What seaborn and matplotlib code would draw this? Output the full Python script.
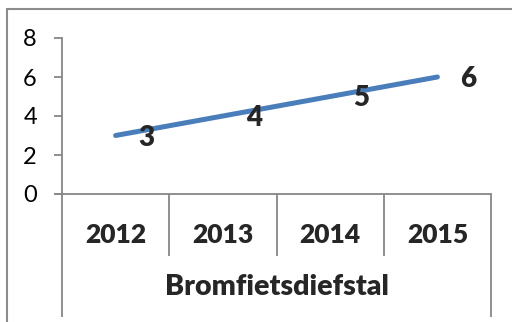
import matplotlib
matplotlib.use("Agg")
import matplotlib.pyplot as plt
import matplotlib.transforms as mtransforms
from matplotlib.patches import Rectangle
import seaborn as sns
import pandas as pd

years = ["2012", "2013", "2014", "2015"]
values = [3, 4, 5, 6]
group_label = "Bromfietsdiefstal"
y_ticks = [0, 2, 4, 6, 8]

sns.set_style("white")
plt.rcParams["font.family"] = ["Lato", "DejaVu Sans"]

df = pd.DataFrame({"x": range(len(years)), "value": values})

W, H = 512, 322
fig = plt.figure(figsize=(W / 100, H / 100), dpi=100)
ax_l, ax_r, ax_t, ax_b = 62, 491, 38, 194
ax = fig.add_axes([ax_l / W, 1 - ax_b / H, (ax_r - ax_l) / W, (ax_b - ax_t) / H])

line_color = "#4A7EBB"
axis_color = "#868686"

sns.lineplot(data=df, x="x", y="value", ax=ax, color=line_color,
             linewidth=3.6, solid_capstyle="round", legend=False)

ax.set_xlim(-0.5, len(years) - 0.5)
ax.set_ylim(0, 8)
ax.set_yticks(y_ticks)
ax.set_yticklabels([str(t) for t in y_ticks], fontsize=17)
ax.set_xticks([])
ax.set_xlabel("")
ax.set_ylabel("")

for side in ["top", "right"]:
    ax.spines[side].set_visible(False)
for side in ["left", "bottom"]:
    ax.spines[side].set_color(axis_color)
    ax.spines[side].set_linewidth(1.3)
ax.tick_params(axis="y", length=6, width=1.3, color=axis_color, pad=12,
               left=True, labelcolor="black")

# Extend the x-axis a bit to the left, like the tick marks
ax.plot([-0.5 - 7 / 107.25, -0.5], [0, 0], color=axis_color, lw=1.3,
        clip_on=False, solid_capstyle="butt")

# Category dividers and labels below the axis
trans = mtransforms.blended_transform_factory(ax.transData, ax.transAxes)
h_px = ax_b - ax_t
inner_bottom = -(256 - ax_b) / h_px
outer_bottom = -(317 - ax_b) / h_px
edges = [i - 0.5 for i in range(len(years) + 1)]
for i, e in enumerate(edges):
    bottom = outer_bottom if i in (0, len(edges) - 1) else inner_bottom
    ax.plot([e, e], [0, bottom], color=axis_color, lw=1.3, transform=trans,
            clip_on=False, solid_capstyle="butt")

for i, yr in enumerate(years):
    ax.text(i, -(235 - ax_b) / h_px, yr, transform=trans, ha="center",
            va="center", fontsize=19, fontweight="heavy")

ax.text(0.5, -(287 - ax_b) / h_px, group_label, transform=ax.transAxes,
        ha="center", va="center", fontsize=20.5, fontweight="heavy")

# Value labels to the right of each point
for i, v in enumerate(values):
    ax.annotate(str(v), (i, v), xytext=(31, -2), textcoords="offset pixels",
                ha="center", va="center", fontsize=20, fontweight="heavy")

# Chart frame
fig.patches.append(Rectangle((6.5 / W, -0.05), 1.1, 1 - 8.5 / H + 0.05,
                             transform=fig.transFigure, fill=False,
                             edgecolor="#8C8C8C", linewidth=1.5,
                             clip_on=False))

fig.savefig("out.png", dpi=100)
